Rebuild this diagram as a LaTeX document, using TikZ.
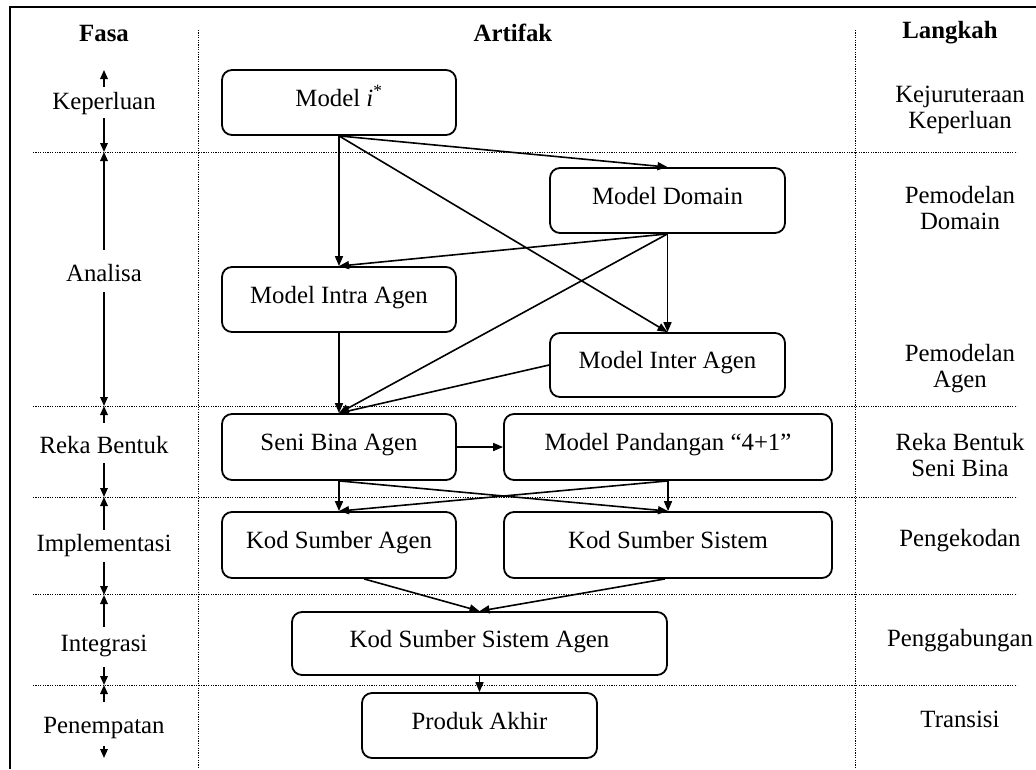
\documentclass[tikz,border=0pt]{standalone}
\usepackage{fontspec}
\setmainfont{Liberation Serif}
\usetikzlibrary{arrows.meta,calc}
\begin{document}
\begin{tikzpicture}[x=1pt,y=-1pt,
  txt/.style={font=\fontsize{24.8}{26}\selectfont},
  box/.style={txt,draw,line width=1.8pt,rounded corners=10pt,inner sep=0pt,
    text height=17pt,text depth=10pt},
  link/.style={line width=1.6pt,-{Triangle[length=10pt,width=8pt]}},
  parrow/.style={line width=1.6pt,-{Triangle[length=9pt,width=7.5pt]}},
  phase/.style={txt,inner sep=0pt,text height=17pt,text depth=5pt},
  stepname/.style={txt,align=center,inner sep=0pt},
  head/.style={txt,font=\fontsize{24.8}{26}\selectfont\bfseries,inner sep=0pt},
  sep/.style={line width=1pt,dash pattern=on 1.1pt off 1.3pt},
]
\useasboundingbox (0,0) rectangle (1036,769);

% outer frame (top and left edges)
\draw[line width=1.8pt] (10,769) -- (10,7) -- (1036,7);

% column separators
\draw[sep] (198,30) -- (198,769);
\draw[sep] (855,30) -- (855,769);

% row separators
\foreach \y in {152,406,497,594,685}
  \draw[sep] (33,\y) -- (1017,\y);

% headers
\node[head] (hfasa) at (104,33) {Fasa};
\node[head] (hart)  at (513,33) {Artifak};
\node[head] (hlang) at (950,33) {Langkah};

% artefact boxes
\node[box,minimum width=234pt,minimum height=65pt] (mi)     at (339,102.5) {Model \textit{i}\textsuperscript{*}};
\node[box,minimum width=235pt,minimum height=65pt] (md)     at (667.5,200.5) {Model Domain};
\node[box,minimum width=234pt,minimum height=65pt] (mintra) at (339,299.5) {Model Intra Agen};
\node[box,minimum width=235pt,minimum height=64pt] (minter) at (667.5,365) {Model Inter Agen};
\node[box,minimum width=234pt,minimum height=66pt] (sba)    at (339,447) {Seni Bina Agen};
\node[box,minimum width=328pt,minimum height=66pt] (mp)     at (668,447) {Model Pandangan ``4+1''};
\node[box,minimum width=234pt,minimum height=66pt] (ksa)    at (339,545) {Kod Sumber Agen};
\node[box,minimum width=328pt,minimum height=66pt] (kss)    at (668,545) {Kod Sumber Sistem};
\node[box,minimum width=375pt,minimum height=63pt] (kssa)   at (479.5,643.5) {Kod Sumber Sistem Agen};
\node[box,minimum width=235pt,minimum height=65pt] (pa)     at (479.5,725.5) {Produk Akhir};

% artefact flow
\draw[link] (mi.south) -- (mintra.north);
\draw[link] (mi.south) -- (md.north);
\draw[link] (mi.south) -- (minter.north);
\draw[link] (md.south) -- (minter.north);
\draw[link] (md.south) -- (mintra.north);
\draw[link] (md.south) -- (sba.north);
\draw[link] (mintra.south) -- (sba.north);
\draw[link] (minter.west) -- (sba.north);
\draw[link] (sba.east) -- (mp.west);
\draw[link] (sba.south) -- (ksa.north);
\draw[link] (sba.south) -- (kss.north);
\draw[link] (mp.south) -- (kss.north);
\draw[link] (mp.south) -- (ksa.north);
\draw[link] ([xshift=25pt]ksa.south) -- (kssa.north);
\draw[link] ([xshift=-3pt]kss.south) -- (kssa.north);
\draw[link] (kssa.south) -- (pa.north);

% phases
\node[phase] (p1) at (104,103) {Keperluan};
\node[phase] (p2) at (104,275) {Analisa};
\node[phase] (p3) at (104,447) {Reka Bentuk};
\node[phase] (p4) at (104,545) {Implementasi};
\node[phase] (p5) at (104,645) {Integrasi};
\node[phase] (p6) at (104,727) {Penempatan};

\coordinate (t0) at (104,70);
\coordinate (t1) at (104,152);
\coordinate (t2) at (104,406);
\coordinate (t3) at (104,497);
\coordinate (t4) at (104,595);
\coordinate (t5) at (104,685);
\coordinate (t6) at (104,758);

% phase extents: arrows from each phase name to its boundaries
\draw[parrow] ([yshift=5pt]p1.north) -- (t0);
\draw[parrow] ([yshift=-4pt]p1.south) -- (t1);
\draw[parrow] ([yshift=14pt]p2.north) -- (t1);
\draw[parrow] ([yshift=-6pt]p2.south) -- (t2);
\draw[parrow] ([yshift=13pt]p3.north) -- (t2);
\draw[parrow] ([yshift=-5pt]p3.south) -- (t3);
\draw[parrow] ([yshift=4pt]p4.north) -- (t3);
\draw[parrow] ([yshift=-6pt]p4.south) -- (t4);
\draw[parrow] ([yshift=7pt]p5.north) -- (t4);
\draw[parrow] ([yshift=-11pt]p5.south) -- (t5);
\draw[parrow] ([yshift=14pt]p6.north) -- (t5);
\draw[parrow] ([yshift=-8pt]p6.south) -- (t6);

% steps
\node[stepname] (s1) at (960,110) {Kejuruteraan\\Keperluan};
\node[stepname] (s2) at (960,208) {Pemodelan\\Domain};
\node[stepname] (s3) at (960,369) {Pemodelan\\Agen};
\node[stepname] (s4) at (960,455) {Reka Bentuk\\Seni Bina};
\node[stepname] (s5) at (960,541) {Pengekodan};
\node[stepname] (s6) at (960,641) {Penggabungan};
\node[stepname] (s7) at (960,719) {Transisi};
\end{tikzpicture}
\end{document}
